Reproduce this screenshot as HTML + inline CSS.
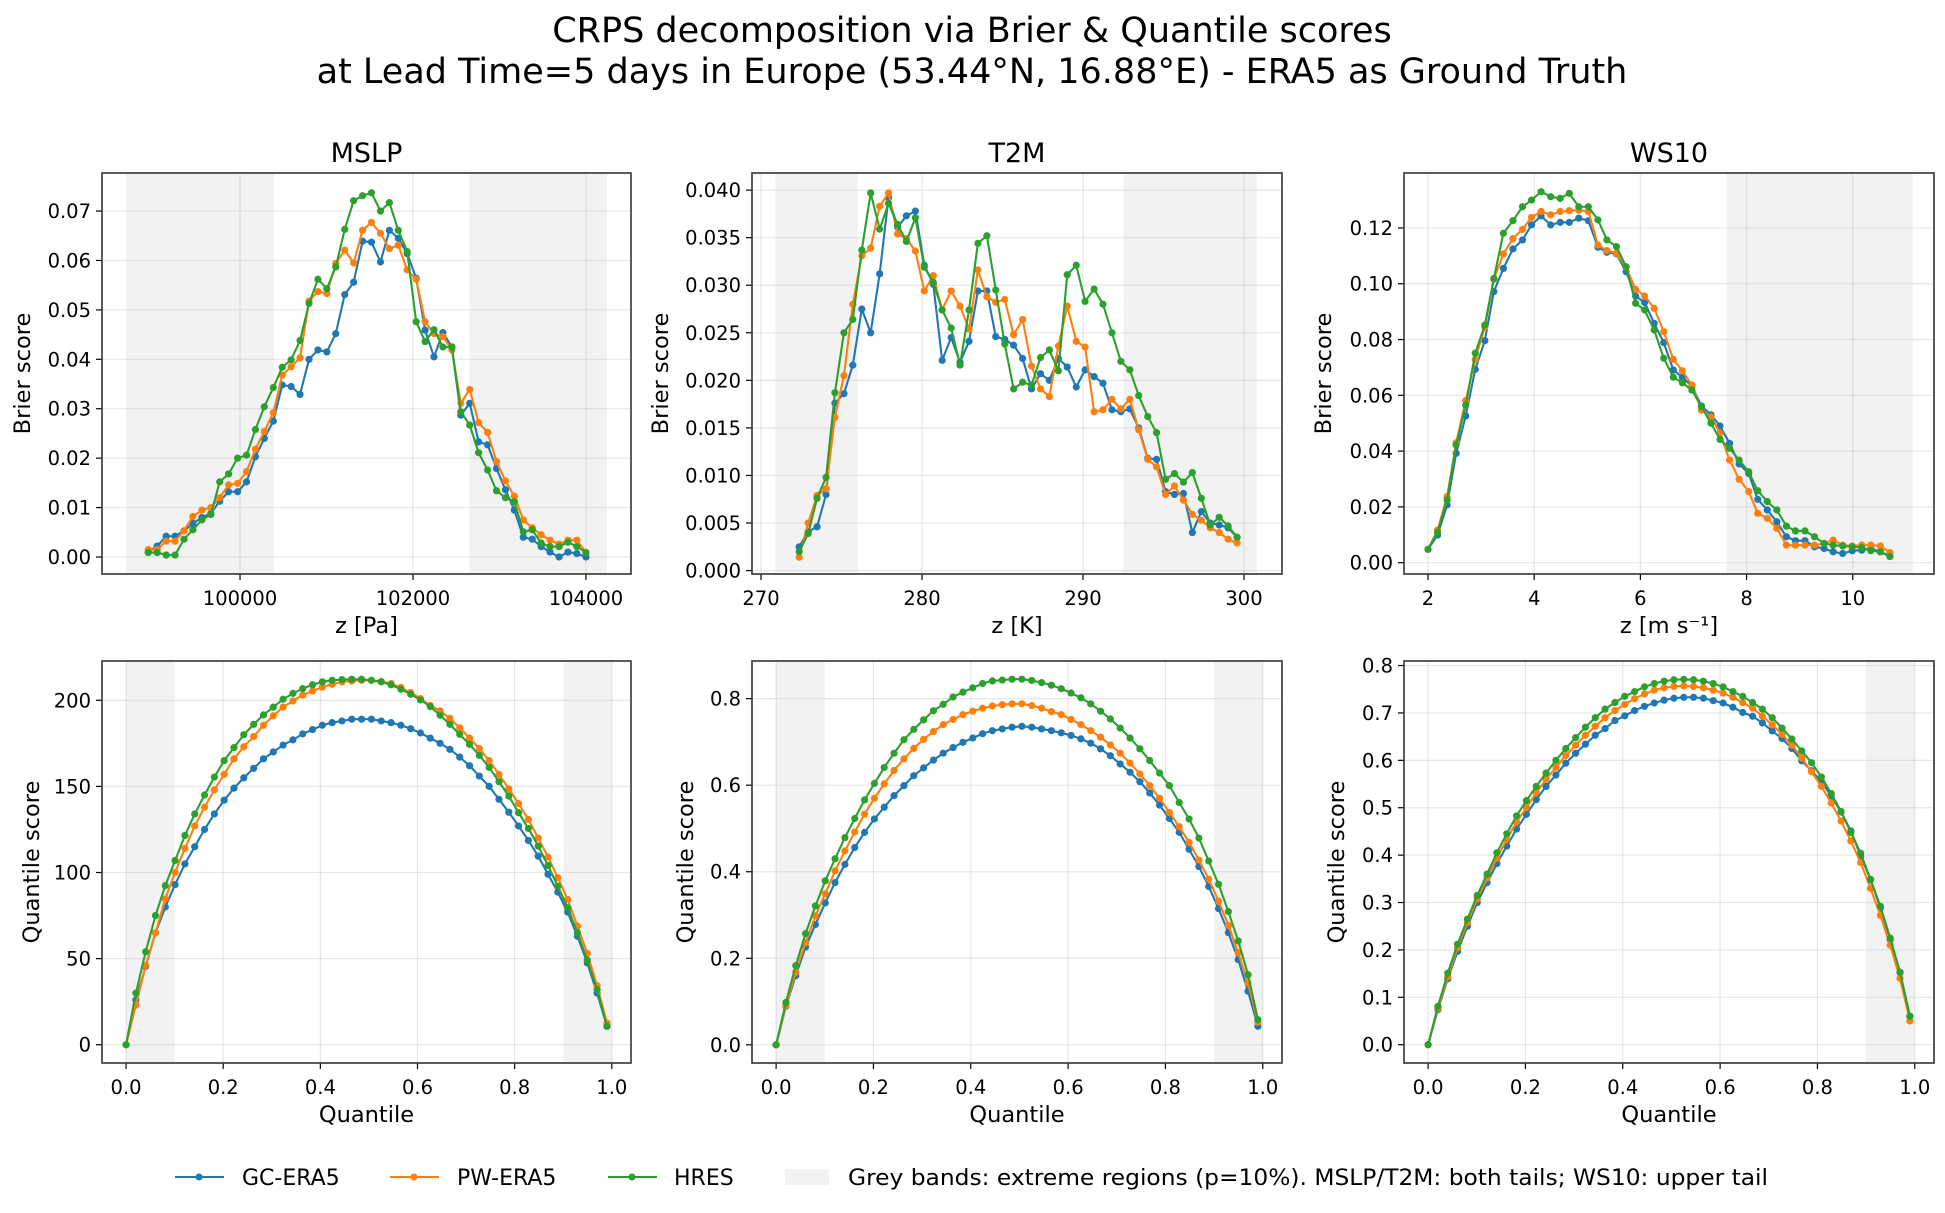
<!DOCTYPE html>
<html><head><meta charset="utf-8"><style>
html,body{margin:0;padding:0;background:#fff;}
svg{display:block;font-family:"DejaVu Sans","Liberation Sans",sans-serif;}
</style></head>
<body>
<svg id="fig" width="1945" height="1213" viewBox="0 0 1945 1213" xmlns="http://www.w3.org/2000/svg">
<rect width="1945" height="1213" fill="#fff"/>
<text x="972" y="42" font-size="35" text-anchor="middle" fill="#000">CRPS decomposition via Brier &amp; Quantile scores</text>
<text x="972" y="83" font-size="35" text-anchor="middle" fill="#000">at Lead Time=5 days in Europe (53.44°N, 16.88°E) - ERA5 as Ground Truth</text>
<g id="legend">
<line x1="175" y1="1177" x2="224" y2="1177" stroke="#1f77b4" stroke-width="2"/><circle cx="199" cy="1177" r="3.5" fill="#1f77b4"/>
<text x="242" y="1185" font-size="22">GC-ERA5</text>
<line x1="390" y1="1177" x2="439" y2="1177" stroke="#ff7f0e" stroke-width="2"/><circle cx="414" cy="1177" r="3.5" fill="#ff7f0e"/>
<text x="457" y="1185" font-size="22">PW-ERA5</text>
<line x1="608" y1="1177" x2="657" y2="1177" stroke="#2ca02c" stroke-width="2"/><circle cx="632" cy="1177" r="3.5" fill="#2ca02c"/>
<text x="674" y="1185" font-size="22">HRES</text>
<rect x="785" y="1169" width="44" height="16" fill="#f2f2f2"/>
<text x="848" y="1185" font-size="22" textLength="920" lengthAdjust="spacingAndGlyphs">Grey bands: extreme regions (p=10%). MSLP/T2M: both tails; WS10: upper tail</text>
</g>
</svg>
<script>
// ---- data ----
const mslpZ=[98939,99042,99146,99249,99352,99455,99559,99662,99765,99868,99972,100075,100178,100281,100385,100488,100591,100694,100798,100901,101004,101107,101211,101314,101417,101520,101624,101727,101830,101933,102037,102140,102243,102346,102450,102553,102656,102759,102863,102966,103069,103172,103276,103379,103482,103585,103689,103792,103895,104000];
const mslpBrierGC=[0.001,0.0022,0.0042,0.0042,0.0053,0.0068,0.008,0.0088,0.0113,0.0132,0.0132,0.0152,0.0203,0.024,0.0275,0.0348,0.0345,0.0329,0.04,0.0419,0.0415,0.0452,0.0531,0.0556,0.0639,0.0637,0.0597,0.0661,0.0645,0.0614,0.0564,0.0459,0.0405,0.0454,0.0425,0.0287,0.0311,0.0233,0.0227,0.0179,0.0136,0.0095,0.004,0.0036,0.0021,0.001,0,0.001,0.0007,0];
const mslpBrierPW=[0.0015,0.0015,0.0032,0.0032,0.0053,0.0082,0.0095,0.01,0.012,0.0146,0.0149,0.0173,0.0218,0.0254,0.0292,0.0368,0.0385,0.0403,0.0518,0.0537,0.0533,0.0594,0.0621,0.0595,0.0661,0.0677,0.0655,0.0624,0.0631,0.0581,0.0562,0.0476,0.0452,0.0446,0.0419,0.0311,0.0339,0.0272,0.0252,0.0193,0.0154,0.0123,0.0075,0.0059,0.0045,0.0034,0.0026,0.0034,0.0034,0.0009];
const mslpBrierHRES=[0.0009,0.0009,0.0004,0.0004,0.0036,0.0055,0.0075,0.0086,0.0152,0.0168,0.02,0.0206,0.0258,0.0304,0.0343,0.0384,0.0399,0.0438,0.0513,0.0562,0.0543,0.0587,0.0663,0.0721,0.0731,0.0737,0.07,0.0717,0.0661,0.0618,0.0476,0.0436,0.046,0.0425,0.0425,0.0294,0.0267,0.0211,0.0176,0.0134,0.012,0.0112,0.0051,0.0055,0.0028,0.0021,0.0021,0.003,0.0021,0.0009];

const t2mZ=[272.37,272.93,273.48,274.04,274.59,275.15,275.70,276.26,276.81,277.37,277.92,278.48,279.03,279.59,280.14,280.70,281.25,281.81,282.36,282.92,283.47,284.03,284.58,285.14,285.69,286.25,286.80,287.36,287.91,288.47,289.02,289.58,290.13,290.69,291.24,291.80,292.35,292.91,293.46,294.02,294.57,295.13,295.68,296.24,296.79,297.35,297.90,298.46,299.01,299.57];
const t2mBrierGC=[0.0025,0.0041,0.0046,0.008,0.0176,0.0186,0.0216,0.0275,0.025,0.0312,0.0392,0.0361,0.0373,0.0378,0.0321,0.0301,0.0221,0.0245,0.0219,0.0241,0.0294,0.0294,0.0246,0.0243,0.0237,0.0223,0.0191,0.0207,0.02,0.0223,0.0214,0.0193,0.0211,0.0204,0.0197,0.0169,0.0167,0.017,0.015,0.0118,0.0117,0.0083,0.008,0.0081,0.004,0.0062,0.005,0.0048,0.0045,0.0035];
const t2mBrierPW=[0.0014,0.005,0.0079,0.0086,0.0161,0.0205,0.028,0.0331,0.0339,0.0383,0.0397,0.0354,0.0349,0.0336,0.0294,0.031,0.0274,0.0294,0.0278,0.0254,0.0316,0.0288,0.0282,0.0285,0.0248,0.0264,0.0215,0.0191,0.0183,0.0236,0.0278,0.0241,0.0235,0.0167,0.0169,0.018,0.017,0.018,0.0148,0.0117,0.0109,0.008,0.0089,0.0074,0.0059,0.0053,0.0045,0.004,0.0033,0.0029];
const t2mBrierHRES=[0.002,0.0039,0.0076,0.0098,0.0187,0.025,0.0264,0.0337,0.0397,0.0359,0.0386,0.0364,0.0346,0.0371,0.0319,0.0303,0.0274,0.0255,0.0216,0.0274,0.0344,0.0352,0.0295,0.0238,0.0191,0.0198,0.0195,0.0224,0.0232,0.021,0.0311,0.0321,0.0283,0.0296,0.028,0.025,0.022,0.0211,0.0184,0.0162,0.0145,0.0096,0.0102,0.0093,0.0103,0.0076,0.0048,0.0056,0.0047,0.0035];

const ws10Z=[2.00,2.18,2.36,2.53,2.71,2.89,3.07,3.24,3.42,3.60,3.78,3.95,4.13,4.31,4.49,4.66,4.84,5.02,5.20,5.37,5.55,5.73,5.91,6.08,6.26,6.44,6.62,6.79,6.97,7.15,7.33,7.50,7.68,7.86,8.04,8.21,8.39,8.57,8.75,8.92,9.10,9.28,9.46,9.63,9.81,9.99,10.17,10.34,10.52,10.70];
const ws10BrierGC=[0.0048,0.0099,0.0207,0.0392,0.0526,0.0693,0.0796,0.0972,0.1055,0.1125,0.1157,0.1211,0.1243,0.1211,0.122,0.122,0.1235,0.1226,0.1131,0.1113,0.1107,0.1043,0.0956,0.0933,0.0858,0.0789,0.0691,0.0665,0.0633,0.0562,0.053,0.049,0.0428,0.0354,0.032,0.0227,0.0189,0.0147,0.0093,0.0079,0.0079,0.0057,0.0051,0.0039,0.0033,0.0043,0.0045,0.0051,0.0039,0.0024];
const ws10BrierPW=[0.0048,0.0117,0.0237,0.043,0.0581,0.0729,0.0844,0.1016,0.1107,0.1162,0.1195,0.1238,0.1259,0.1247,0.1259,0.1262,0.1264,0.1259,0.1139,0.1119,0.1109,0.1059,0.098,0.0956,0.0912,0.0828,0.0729,0.0688,0.0637,0.0547,0.0523,0.0464,0.0368,0.0299,0.0255,0.0177,0.0159,0.0123,0.0063,0.0063,0.0063,0.0063,0.0069,0.0081,0.0063,0.006,0.0063,0.0063,0.006,0.0036];
const ws10BrierHRES=[0.0048,0.0109,0.0225,0.0422,0.0565,0.0751,0.0852,0.1019,0.1181,0.1226,0.1276,0.13,0.133,0.1312,0.1306,0.1324,0.1276,0.1276,0.1229,0.1157,0.1133,0.1061,0.093,0.0906,0.0834,0.0733,0.0665,0.0645,0.0619,0.0559,0.05,0.0442,0.041,0.0368,0.0326,0.0258,0.0219,0.0189,0.0131,0.0114,0.0114,0.0093,0.0069,0.0063,0.006,0.0057,0.0054,0.0043,0.0039,0.0022];

const quantiles=[0,0.0202,0.0404,0.0606,0.0808,0.1010,0.1212,0.1414,0.1616,0.1818,0.2020,0.2222,0.2424,0.2627,0.2829,0.3031,0.3233,0.3435,0.3637,0.3839,0.4041,0.4243,0.4445,0.4647,0.4849,0.5051,0.5253,0.5455,0.5657,0.5859,0.6061,0.6263,0.6465,0.6667,0.6869,0.7071,0.7273,0.7475,0.7677,0.7879,0.8081,0.8283,0.8485,0.8687,0.8889,0.9091,0.9293,0.9495,0.9697,0.99];
const mslpQsGC=[0,26,45.5,65,80,93,105,115,125,134,142,149,155,160.5,166,170,174,177,180.5,183,185.5,187,188,189,189,189,188,187,185.5,183.5,181,178,175,171.5,167,162,156,150,142.5,135,127,118.6,109.5,99,88.6,77,63,47.5,30,10.7];
const mslpQsPW=[0,23,46,65,84.7,100,114,127,138,148,157,166,173,179,185.5,191,196,199.6,203,205.4,207.6,209.3,210.7,211.2,211.6,211.6,210.9,209.7,207.4,204.5,201,197,193.8,189.5,184,178,172,165,157,148.6,140,130.8,120,109,97,84.3,68.8,53,34.3,12.6];
const mslpQsHRES=[0,30,54,75,92.4,107,121.5,134,145,155.4,165,172.5,180,186,191.5,196,200.6,204,206.8,209,210.7,211.6,212,212.2,212.2,211.6,210.7,209,206.4,203.5,200.2,196.3,191.3,186,180.2,174.4,168,161,152.7,144.4,134.7,125.6,115.3,104,92,79.5,65,49,32,10.7];
const t2mQsGC=[0,0.089,0.16,0.226,0.278,0.328,0.375,0.417,0.456,0.491,0.522,0.549,0.576,0.599,0.622,0.64,0.658,0.674,0.687,0.699,0.709,0.719,0.726,0.73,0.734,0.736,0.734,0.73,0.726,0.721,0.715,0.707,0.697,0.684,0.668,0.649,0.63,0.608,0.582,0.554,0.523,0.491,0.452,0.412,0.366,0.315,0.259,0.197,0.124,0.043];
const t2mQsPW=[0,0.09,0.168,0.236,0.298,0.349,0.402,0.448,0.492,0.533,0.57,0.603,0.634,0.661,0.685,0.706,0.724,0.74,0.752,0.763,0.771,0.778,0.783,0.786,0.788,0.788,0.784,0.778,0.77,0.763,0.752,0.74,0.726,0.711,0.693,0.674,0.651,0.626,0.599,0.57,0.537,0.504,0.468,0.427,0.383,0.332,0.276,0.213,0.143,0.052];
const t2mQsHRES=[0,0.098,0.183,0.257,0.321,0.379,0.43,0.479,0.523,0.566,0.604,0.641,0.674,0.705,0.729,0.751,0.772,0.787,0.804,0.815,0.825,0.835,0.841,0.843,0.845,0.845,0.842,0.837,0.831,0.823,0.813,0.802,0.788,0.771,0.753,0.732,0.709,0.684,0.657,0.628,0.599,0.56,0.522,0.478,0.425,0.371,0.308,0.24,0.162,0.058];
const ws10QsGC=[0,0.074,0.139,0.197,0.25,0.3,0.342,0.382,0.419,0.455,0.486,0.517,0.545,0.569,0.594,0.615,0.634,0.653,0.667,0.684,0.694,0.705,0.714,0.721,0.727,0.731,0.733,0.733,0.731,0.726,0.721,0.712,0.701,0.693,0.679,0.662,0.646,0.625,0.599,0.578,0.555,0.525,0.491,0.451,0.398,0.349,0.289,0.222,0.152,0.06];
const ws10QsPW=[0,0.077,0.143,0.205,0.258,0.308,0.352,0.394,0.433,0.47,0.5,0.532,0.56,0.585,0.61,0.632,0.653,0.672,0.69,0.705,0.718,0.73,0.74,0.748,0.753,0.756,0.757,0.756,0.753,0.748,0.742,0.733,0.722,0.71,0.693,0.675,0.655,0.632,0.605,0.576,0.545,0.51,0.472,0.43,0.384,0.33,0.273,0.21,0.14,0.05];
const ws10QsHRES=[0,0.081,0.151,0.212,0.265,0.315,0.36,0.405,0.445,0.483,0.515,0.545,0.573,0.6,0.625,0.648,0.67,0.69,0.708,0.722,0.735,0.745,0.755,0.762,0.767,0.77,0.771,0.77,0.767,0.762,0.755,0.745,0.735,0.722,0.708,0.69,0.668,0.645,0.62,0.595,0.565,0.53,0.492,0.448,0.404,0.348,0.292,0.225,0.153,0.06];

const mslpXTicks=[100000,102000,104000];
const mslpXTickLabels=["100000","102000","104000"];
const mslpYTicks=[0,0.01,0.02,0.03,0.04,0.05,0.06,0.07];
const mslpYTickLabels=["0.00","0.01","0.02","0.03","0.04","0.05","0.06","0.07"];
const t2mXTicks=[270,280,290,300];
const t2mXTickLabels=["270","280","290","300"];
const t2mYTicks=[0,0.005,0.01,0.015,0.02,0.025,0.03,0.035,0.04];
const t2mYTickLabels=["0.000","0.005","0.010","0.015","0.020","0.025","0.030","0.035","0.040"];
const ws10XTicks=[2,4,6,8,10];
const ws10XTickLabels=["2","4","6","8","10"];
const ws10YTicks=[0,0.02,0.04,0.06,0.08,0.10,0.12];
const ws10YTickLabels=["0.00","0.02","0.04","0.06","0.08","0.10","0.12"];
const qXTicks=[0,0.2,0.4,0.6,0.8,1.0];
const qXTickLabels=["0.0","0.2","0.4","0.6","0.8","1.0"];
const mslpQYTicks=[0,50,100,150,200];
const mslpQYTickLabels=["0","50","100","150","200"];
const t2mQYTicks=[0,0.2,0.4,0.6,0.8];
const t2mQYTickLabels=["0.0","0.2","0.4","0.6","0.8"];
const ws10QYTicks=[0,0.1,0.2,0.3,0.4,0.5,0.6,0.7,0.8];
const ws10QYTickLabels=["0.0","0.1","0.2","0.3","0.4","0.5","0.6","0.7","0.8"];
const mslpBands=[[98682,100393],[102653,104243]];
const t2mBands=[[270.9,276.0],[292.5,300.8]];
const ws10Bands=[[7.62,11.13]];
const qBands=[[0,0.1],[0.9,1.0]];
const ws10QBands=[[0.9,1.0]];

// ---- drawing ----
const NS="http://www.w3.org/2000/svg";
const svg=document.getElementById('fig');
const COLORS=["#1f77b4","#ff7f0e","#2ca02c"];
function mk(tag,attrs,parent){const e=document.createElementNS(NS,tag);for(const k in attrs)e.setAttribute(k,attrs[k]);(parent||svg).appendChild(e);return e;}

function panel(o){
  const g=mk('g',{});
  
  
  const L=o.L,R=o.R,T=o.T,B=o.B;
  const sx=v=>L+(v-o.xd[0])/(o.xd[1]-o.xd[0])*(R-L);
  const sy=v=>B-(v-o.yd[0])/(o.yd[1]-o.yd[0])*(B-T);
  const defs=mk('clipPath',{id:o.name+'-clip'},g);
  mk('rect',{x:L,y:T,width:R-L,height:B-T},defs);
  o.bands.forEach(b=>{
    const r=mk('rect',{x:sx(b[0]),y:T,width:sx(b[1])-sx(b[0]),height:B-T,fill:'#f2f2f2','clip-path':'url(#'+o.name+'-clip)'},g);
    
    
  });
  o.xt.forEach((v,i)=>{
    mk('line',{x1:sx(v),x2:sx(v),y1:T,y2:B,stroke:'#b0b0b0','stroke-opacity':0.3,'stroke-width':1.2},g);
    mk('line',{x1:sx(v),x2:sx(v),y1:B,y2:B+6,stroke:'#000','stroke-width':1.2},g);
    const t=mk('text',{x:sx(v),y:B+31,'font-size':19.5,'text-anchor':'middle'},g);
    t.textContent=o.xtl[i];
    
    
  });
  o.yt.forEach((v,i)=>{
    mk('line',{x1:L,x2:R,y1:sy(v),y2:sy(v),stroke:'#b0b0b0','stroke-opacity':0.3,'stroke-width':1.2},g);
    mk('line',{x1:L-6,x2:L,y1:sy(v),y2:sy(v),stroke:'#000','stroke-width':1.2},g);
    const t=mk('text',{x:L-11,y:sy(v)+7,'font-size':19.5,'text-anchor':'end'},g);
    t.textContent=o.ytl[i];
    
    
  });
  o.series.forEach((s,k)=>{
    const pts=s.map((v,i)=>sx(o.x[i]).toFixed(2)+','+sy(v).toFixed(2)).join(' ');
    const sg=mk('g',{'clip-path':'url(#'+o.name+'-clip)'},g);
    
    
    mk('polyline',{points:pts,fill:'none',stroke:COLORS[k],'stroke-width':2.1,'stroke-linejoin':'round'},sg);
    s.forEach((v,i)=>{
      const c=mk('circle',{cx:sx(o.x[i]),cy:sy(v),r:3.6,fill:COLORS[k]},sg);
      
      
    });
  });
  mk('rect',{x:L,y:T,width:R-L,height:B-T,fill:'none',stroke:'#333','stroke-width':1.6},g);
  if(o.title){const t=mk('text',{x:(L+R)/2,y:T-11,'font-size':27,'text-anchor':'middle'},g);t.textContent=o.title;
    
    }
  const xl=mk('text',{x:(L+R)/2,y:B+59,'font-size':22.5,'text-anchor':'middle'},g);xl.textContent=o.xlabel;
  
  
  const cy=(T+B)/2, cx=L-o.ylx;
  const yl=mk('text',{x:cx,y:cy,'font-size':22.5,'text-anchor':'middle','dominant-baseline':'central',transform:'rotate(-90 '+cx+' '+cy+')'},g);yl.textContent=o.ylabel;
  
  
}
const C=[[102,631],[752,1282],[1404,1934]];
const TOP=[173,574], BOT=[661,1063];
panel({name:'mslp-brier-panel',title:'MSLP',L:C[0][0],R:C[0][1],T:TOP[0],B:TOP[1],xd:[98404,104521],yd:[-0.00344,0.0777],x:mslpZ,series:[mslpBrierGC,mslpBrierPW,mslpBrierHRES],xt:mslpXTicks,xtl:mslpXTickLabels,yt:mslpYTicks,ytl:mslpYTickLabels,bands:mslpBands,xlabel:'z [Pa]',ylabel:'Brier score',ylx:79});
panel({name:'t2m-brier-panel',title:'T2M',L:C[1][0],R:C[1][1],T:TOP[0],B:TOP[1],xd:[269.44,302.36],yd:[-0.00036,0.0418],x:t2mZ,series:[t2mBrierGC,t2mBrierPW,t2mBrierHRES],xt:t2mXTicks,xtl:t2mXTickLabels,yt:t2mYTicks,ytl:t2mYTickLabels,bands:t2mBands,xlabel:'z [K]',ylabel:'Brier score',ylx:91});
panel({name:'ws10-brier-panel',title:'WS10',L:C[2][0],R:C[2][1],T:TOP[0],B:TOP[1],xd:[1.548,11.53],yd:[-0.00405,0.1397],x:ws10Z,series:[ws10BrierGC,ws10BrierPW,ws10BrierHRES],xt:ws10XTicks,xtl:ws10XTickLabels,yt:ws10YTicks,ytl:ws10YTickLabels,bands:ws10Bands,xlabel:'z [m s\u207B\u00B9]',ylabel:'Brier score',ylx:80});
panel({name:'mslp-quantile-panel',L:C[0][0],R:C[0][1],T:BOT[0],B:BOT[1],xd:[-0.0495,1.0395],yd:[-10.6,222.8],x:quantiles,series:[mslpQsGC,mslpQsPW,mslpQsHRES],xt:qXTicks,xtl:qXTickLabels,yt:mslpQYTicks,ytl:mslpQYTickLabels,bands:qBands,xlabel:'Quantile',ylabel:'Quantile score',ylx:70});
panel({name:'t2m-quantile-panel',L:C[1][0],R:C[1][1],T:BOT[0],B:BOT[1],xd:[-0.0495,1.0395],yd:[-0.042,0.887],x:quantiles,series:[t2mQsGC,t2mQsPW,t2mQsHRES],xt:qXTicks,xtl:qXTickLabels,yt:t2mQYTicks,ytl:t2mQYTickLabels,bands:qBands,xlabel:'Quantile',ylabel:'Quantile score',ylx:66});
panel({name:'ws10-quantile-panel',L:C[2][0],R:C[2][1],T:BOT[0],B:BOT[1],xd:[-0.0495,1.0395],yd:[-0.0386,0.8096],x:quantiles,series:[ws10QsGC,ws10QsPW,ws10QsHRES],xt:qXTicks,xtl:qXTickLabels,yt:ws10QYTicks,ytl:ws10QYTickLabels,bands:ws10QBands,xlabel:'Quantile',ylabel:'Quantile score',ylx:67});
</script>
</body></html>
